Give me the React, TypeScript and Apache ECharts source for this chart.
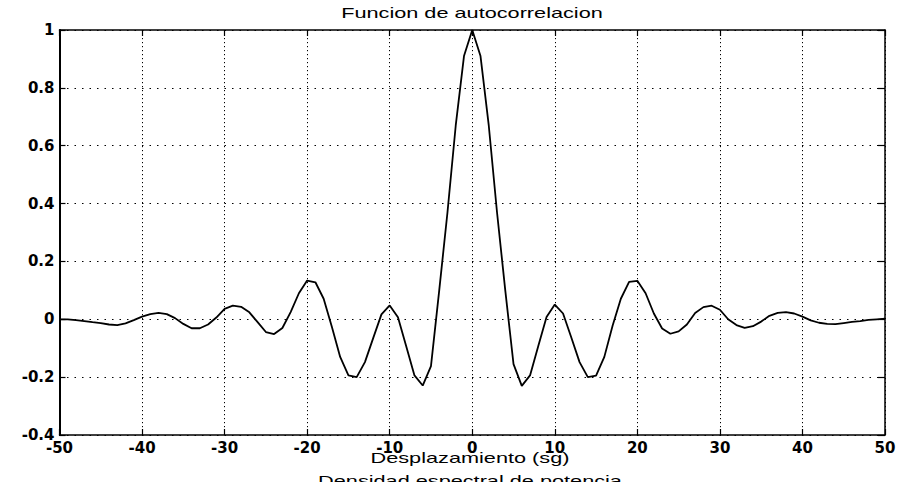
import React, { useEffect, useRef } from "react";
import * as echarts from "echarts";

const titleText = "Funcion de autocorrelacion";
const xAxisName = "Desplazamiento (sg)";
const nextTitleText = "Densidad espectral de potencia";

const lags = [
  -50, -49, -48, -47, -46, -45, -44, -43, -42, -41,
  -40, -39, -38, -37, -36, -35, -34, -33, -32, -31,
  -30, -29, -28, -27, -26, -25, -24, -23, -22, -21,
  -20, -19, -18, -17, -16, -15, -14, -13, -12, -11,
  -10, -9, -8, -7, -6, -5, -4, -3, -2, -1,
  0, 1, 2, 3, 4, 5, 6, 7, 8, 9,
  10, 11, 12, 13, 14, 15, 16, 17, 18, 19,
  20, 21, 22, 23, 24, 25, 26, 27, 28, 29,
  30, 31, 32, 33, 34, 35, 36, 37, 38, 39,
  40, 41, 42, 43, 44, 45, 46, 47, 48, 49, 50,
];

const autocorr = [
  0.0, 0.0, -0.003, -0.006, -0.01, -0.013, -0.018, -0.02, -0.014, -0.003,
  0.009, 0.018, 0.022, 0.018, 0.004, -0.016, -0.031, -0.031, -0.018, 0.006,
  0.036, 0.047, 0.043, 0.024, -0.01, -0.044, -0.051, -0.03, 0.025, 0.09,
  0.134, 0.128, 0.071, -0.027, -0.13, -0.194, -0.2, -0.148, -0.065, 0.017,
  0.048, 0.007, -0.093, -0.194, -0.229, -0.162, 0.1, 0.37, 0.67, 0.91,
  1.0, 0.91, 0.67, 0.37, 0.1, -0.155, -0.23, -0.194, -0.092, 0.008,
  0.051, 0.02, -0.063, -0.148, -0.2, -0.195, -0.13, -0.022, 0.071, 0.129,
  0.133, 0.09, 0.02, -0.032, -0.05, -0.042, -0.018, 0.022, 0.042, 0.047,
  0.033, 0.0, -0.02, -0.03, -0.024, -0.008, 0.012, 0.022, 0.025, 0.02,
  0.009, -0.004, -0.012, -0.016, -0.017, -0.013, -0.009, -0.006, -0.002, 0.0, 0.002,
];

const LABEL_FONT = "DejaVu Sans";
const TEXT_FONT = "Liberation Sans";

export default function App() {
  const ref = useRef<HTMLDivElement>(null);

  useEffect(() => {
    if (!ref.current) return;
    const chart = echarts.init(ref.current, undefined, { renderer: "svg" });
    const axisLineStyle = { color: "#000", width: 1.5 };
    const labelStyle = { color: "#000", fontSize: 15, fontFamily: LABEL_FONT, fontWeight: "bold" };
    const stretchedText = (text: string, x: number, y: number) => ({
      type: "text",
      x,
      y,
      scaleX: 1.55,
      scaleY: 1,
      style: {
        text,
        fill: "#000",
        font: `14px "${TEXT_FONT}"`,
        textAlign: "center",
        textVerticalAlign: "top",
      },
    });
    const option: any = {
      animation: false,
      backgroundColor: "#fff",
      grid: { left: 59.5, right: 25, top: 30, bottom: 47, containLabel: false },
      graphic: [
        stretchedText(titleText, 472, 6),
        stretchedText(xAxisName, 470, 451),
        stretchedText(nextTitleText, 470, 474),
      ],
      xAxis: [
        {
          type: "value",
          min: -50,
          max: 50,
          interval: 10,
          position: "bottom",
          axisLine: { show: true, onZero: false, lineStyle: axisLineStyle },
          axisTick: { show: true, inside: true, length: 6, lineStyle: { color: "#000", width: 1.2 } },
          axisLabel: { ...labelStyle, margin: 5 },
          splitLine: { show: true, lineStyle: { color: "#000", width: 1, type: [1.2, 2.8] } },
        },
        {
          type: "value",
          min: -50,
          max: 50,
          interval: 10,
          position: "top",
          axisLine: { show: true, onZero: false, lineStyle: axisLineStyle },
          axisTick: { show: true, inside: true, length: 6, lineStyle: { color: "#000", width: 1.2 } },
          axisLabel: { show: false },
          splitLine: { show: false },
        },
      ],
      yAxis: [
        {
          type: "value",
          min: -0.4,
          max: 1,
          interval: 0.2,
          position: "left",
          axisLine: { show: true, onZero: false, lineStyle: { color: "#000", width: 2 } },
          axisTick: { show: true, inside: true, length: 6, lineStyle: { color: "#000", width: 1.2 } },
          axisLabel: {
            ...labelStyle,
            margin: 5,
            formatter: (v: number) => String(Math.round(v * 10) / 10),
          },
          splitLine: { show: true, lineStyle: { color: "#000", width: 1, type: [1.5, 6] } },
        },
        {
          type: "value",
          min: -0.4,
          max: 1,
          interval: 0.2,
          position: "right",
          axisLine: { show: true, onZero: false, lineStyle: axisLineStyle },
          axisTick: { show: true, inside: true, length: 7, lineStyle: { color: "#000", width: 1.2 } },
          axisLabel: { show: false },
          splitLine: { show: false },
        },
      ],
      series: [
        {
          type: "line",
          xAxisIndex: 0,
          yAxisIndex: 0,
          data: lags.map((x, i) => [x, autocorr[i]]),
          showSymbol: false,
          lineStyle: { color: "#000", width: 1.8 },
          z: 5,
        },
      ],
    };
    chart.setOption(option);
    return () => chart.dispose();
  }, []);

  return (
    <div
      ref={ref}
      style={{ position: "fixed", left: 0, top: 0, width: 910, height: 482, background: "#fff" }}
    />
  );
}
